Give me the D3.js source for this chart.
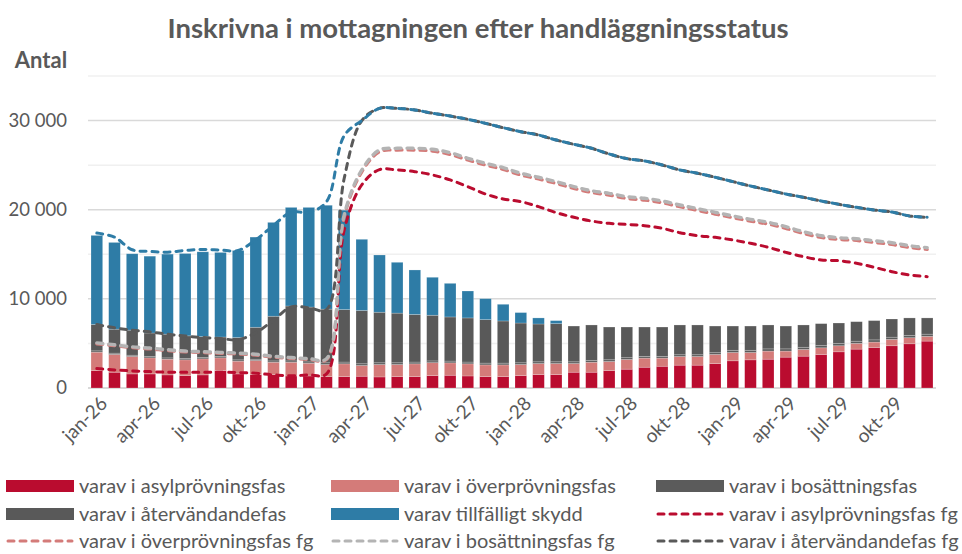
<!DOCTYPE html>
<html>
<head>
<meta charset="utf-8">
<script src="https://cdn.jsdelivr.net/npm/d3@7"></script>
<style>
  body { margin: 0; background: #fff; }
  text { font-family: Lato, "Open Sans", sans-serif; fill: #595959; }
</style>
</head>
<body>
<svg id="chart" width="962" height="554"></svg>
<script>
// months jan-26 .. dec-29
const monthNames = ['jan', 'feb', 'mar', 'apr', 'maj', 'jun', 'jul', 'aug', 'sep', 'okt', 'nov', 'dec'];
const years = ['26', '27', '28', '29'];
const months = years.flatMap(y => monthNames.map(m => `${m}-${y}`));

// stacked bars (antal per status)
const asyl = [1950,1770,1580,1580,1470,1390,1470,1950,1580,1500,1500,1350,1350,1280,1280,1320,1240,1280,1280,1390,1430,1350,1280,1280,1390,1500,1500,1770,1770,1950,2110,2330,2440,2560,2560,2740,3050,3160,3230,3460,3570,3760,4060,4360,4550,4740,4960,5260];
const overprov = [2070,1990,1950,1800,1760,1770,1800,1430,1430,1580,1390,1540,1430,1350,1430,1200,1390,1350,1430,1450,1390,1360,1310,1310,1240,1240,1240,970,1120,1020,1090,1020,910,970,970,1020,930,820,910,680,750,750,680,640,600,710,680,530];
const bosattning = [150,150,150,150,150,150,150,150,150,150,150,150,150,200,200,200,200,200,200,200,200,200,200,200,200,200,200,200,200,200,200,200,200,200,200,200,250,250,250,250,250,250,250,250,250,250,250,250];
const atervand = [2960,2690,2810,2640,2660,2540,2340,2190,2500,3580,5010,6160,6150,6020,5890,5980,5670,5570,5340,5120,4950,4950,4880,4730,4460,4240,4280,4010,3980,3670,3440,3290,3290,3340,3340,2990,2720,2720,2680,2560,2500,2460,2300,2190,2160,2040,1970,1820];
const skydd = [9990,9730,8570,8620,8980,9240,9520,9490,9770,10120,10530,11060,11180,11650,11150,7980,6420,5700,4990,4260,3770,3020,2350,1870,1170,680,340,0,0,0,0,0,0,0,0,0,0,0,0,0,0,0,0,0,0,0,0,0];

// föregående prognos (fg), lines drawn as stacked levels
const fgAsyl = [2180,2030,1920,1840,1770,1770,1770,1770,1730,1650,1470,1380,1470,1580,17700,22800,24500,24460,24270,23900,23340,22580,21760,21200,20900,20340,19670,19150,18730,18470,18350,18210,17910,17420,17090,16900,16600,16230,15780,15220,14730,14360,14280,13990,13540,13050,12680,12490];
const fgOverprov = [4960,4750,4520,4380,4200,4050,3970,3890,3820,3680,3460,3320,3200,3180,19150,24250,26500,26690,26690,26580,26200,25570,25010,24520,23890,23440,22950,22390,21930,21640,21260,21080,20780,20330,19920,19510,19100,18720,18390,17900,17330,16890,16660,16550,16320,16100,15760,15540];
const fgBosattning = [5060,4850,4620,4480,4300,4150,4070,3990,3920,3780,3560,3420,3300,3280,19400,24460,26700,26890,26890,26780,26400,25770,25210,24720,24090,23640,23150,22590,22130,21840,21460,21280,20980,20530,20120,19710,19300,18920,18590,18100,17530,17090,16860,16750,16520,16300,15960,15740];
const fgAtervand = [7130,6750,6490,6300,6040,5830,5660,5550,5420,6200,7600,9100,9000,8780,23500,30000,31370,31370,31190,30820,30510,30140,29690,29200,28750,28380,27820,27340,26890,26250,25730,25470,25020,24460,24090,23640,23150,22660,22210,21760,21390,20980,20610,20270,19970,19740,19300,19150];
const fgSkydd = [17380,16930,15510,15320,15240,15430,15540,15470,15430,16630,18240,19740,19700,20900,28300,30000,31370,31370,31190,30820,30510,30140,29690,29200,28750,28380,27820,27340,26890,26250,25730,25470,25020,24460,24090,23640,23150,22660,22210,21760,21390,20980,20610,20270,19970,19740,19300,19150];

const yTicks = [0, 10000, 20000, 30000];

const barSeries = [
  { key: 'asyl', label: 'varav i asylprövningsfas', values: asyl, color: '#BA0C2F' },
  { key: 'overprov', label: 'varav i överprövningsfas', values: overprov, color: '#D47B79' },
  { key: 'bosattning', label: 'varav i bosättningsfas', values: bosattning, color: '#5B5B5B' },
  { key: 'atervand', label: 'varav i återvändandefas', values: atervand, color: '#595959' },
  { key: 'skydd', label: 'varav tillfälligt skydd', values: skydd, color: '#2E7CA6' },
];
const lineSeries = [
  { label: 'varav i asylprövningsfas fg', values: fgAsyl, color: '#BA0C2F', width: 3 },
  { label: 'varav i överprövningsfas fg', values: fgOverprov, color: '#D47B79', width: 3.2 },
  { label: 'varav i bosättningsfas fg', values: fgBosattning, color: '#B4B4B4', width: 3.4 },
  { label: 'varav i återvändandefas fg', values: fgAtervand, color: '#595959', width: 3 },
  { label: 'varav tillfälligt skydd fg', values: fgSkydd, color: '#2E7CA6', width: 3 },
];

const svg = d3.select('#chart');
const plotLeft = 88, plotRight = 936, plotTop = 76, plotBottom = 388;

const x = d3.scaleBand().domain(months).range([plotLeft, plotRight]).paddingInner(0.34).paddingOuter(0.17);
const y = d3.scaleLinear().domain([0, 35000]).range([plotBottom, plotTop]);
const fmt = d3.formatLocale({ decimal: ',', thousands: ' ', grouping: [3], currency: ['', ' kr'] }).format(',');

// gridlines every 5000, stronger every 10000
svg.append('g').selectAll('line')
  .data(d3.range(0, 35001, 5000))
  .join('line')
  .attr('x1', plotLeft).attr('x2', plotRight)
  .attr('y1', d => y(d)).attr('y2', d => y(d))
  .attr('stroke', d => d % 10000 === 0 ? '#D9D9D9' : '#F0F0F0')
  .attr('stroke-width', d => d === 0 ? 2 : 1.5);

// y labels
svg.append('g').selectAll('text')
  .data(yTicks)
  .join('text')
  .attr('x', 67).attr('y', d => y(d))
  .attr('dy', '0.35em')
  .attr('text-anchor', 'end')
  .style('font-size', '18.5px')
  .text(d => fmt(d));

svg.append('text')
  .attr('x', 41).attr('y', 60).attr('dy', '0.35em')
  .attr('text-anchor', 'middle')
  .style('font-size', '22px').style('font-weight', 'bold')
  .text('Antal');

svg.append('text')
  .attr('x', 478).attr('y', 28).attr('dy', '0.35em')
  .attr('text-anchor', 'middle')
  .style('font-size', '27.5px').style('font-weight', 'bold')
  .text('Inskrivna i mottagningen efter handläggningsstatus');

// stacked bars
const rows = months.map((m, i) => {
  const r = { month: m };
  barSeries.forEach(s => { r[s.key] = s.values[i]; });
  return r;
});
const stacked = d3.stack().keys(barSeries.map(s => s.key))(rows);

svg.append('g').selectAll('g')
  .data(stacked)
  .join('g')
  .attr('fill', (d, i) => barSeries[i].color)
  .selectAll('rect')
  .data(d => d.filter(p => p[1] > p[0]))
  .join('rect')
  .attr('x', d => x(d.data.month))
  .attr('width', x.bandwidth())
  .attr('y', d => y(d[1]))
  .attr('height', d => y(d[0]) - y(d[1]))
  .attr('stroke', 'rgba(255,255,255,0.3)')
  .attr('stroke-width', 0.7);

// dashed fg lines
const line = d3.line()
  .x((d, i) => x(months[i]) + x.bandwidth() / 2)
  .y(d => y(d))
  .curve(d3.curveCatmullRom.alpha(0.5));

svg.append('g').selectAll('path')
  .data(lineSeries)
  .join('path')
  .attr('d', d => line(d.values))
  .attr('fill', 'none')
  .attr('stroke', d => d.color)
  .attr('stroke-width', d => d.width)
  .attr('stroke-dasharray', '6,6')
  .attr('stroke-linecap', 'round');

// x labels every third month
svg.append('g').selectAll('text')
  .data(months.filter((m, i) => i % 3 === 0))
  .join('text')
  .attr('transform', d => `translate(${x(d) + x.bandwidth() / 2 + 7},${plotBottom + 12}) rotate(-45)`)
  .attr('text-anchor', 'end')
  .attr('dy', '0.35em')
  .style('font-size', '19px')
  .text(d => d);

// legend, 3 columns
const legendItems = [
  ...barSeries.map(s => ({ label: s.label, color: s.color, type: 'bar' })),
  ...lineSeries.slice(0, 4).map(s => ({ label: s.label, color: s.color, type: 'line' })),
];
const colX = [6, 331, 656];
const rowY = [486, 514, 541];

const legend = svg.append('g').selectAll('g')
  .data(legendItems)
  .join('g')
  .attr('transform', (d, i) => `translate(${colX[i % 3]},${rowY[Math.floor(i / 3)]})`);

legend.filter(d => d.type === 'bar').append('rect')
  .attr('x', 0).attr('y', -6).attr('width', 68).attr('height', 12)
  .attr('fill', d => d.color);

legend.filter(d => d.type === 'line').append('line')
  .attr('x1', 2).attr('x2', 66).attr('y1', 0).attr('y2', 0)
  .attr('stroke', d => d.color)
  .attr('stroke-width', 3)
  .attr('stroke-dasharray', '6,6')
  .attr('stroke-linecap', 'round');

legend.append('text')
  .attr('x', 73).attr('y', 0).attr('dy', '0.35em')
  .style('font-size', '20px')
  .text(d => d.label);
</script>
</body>
</html>
